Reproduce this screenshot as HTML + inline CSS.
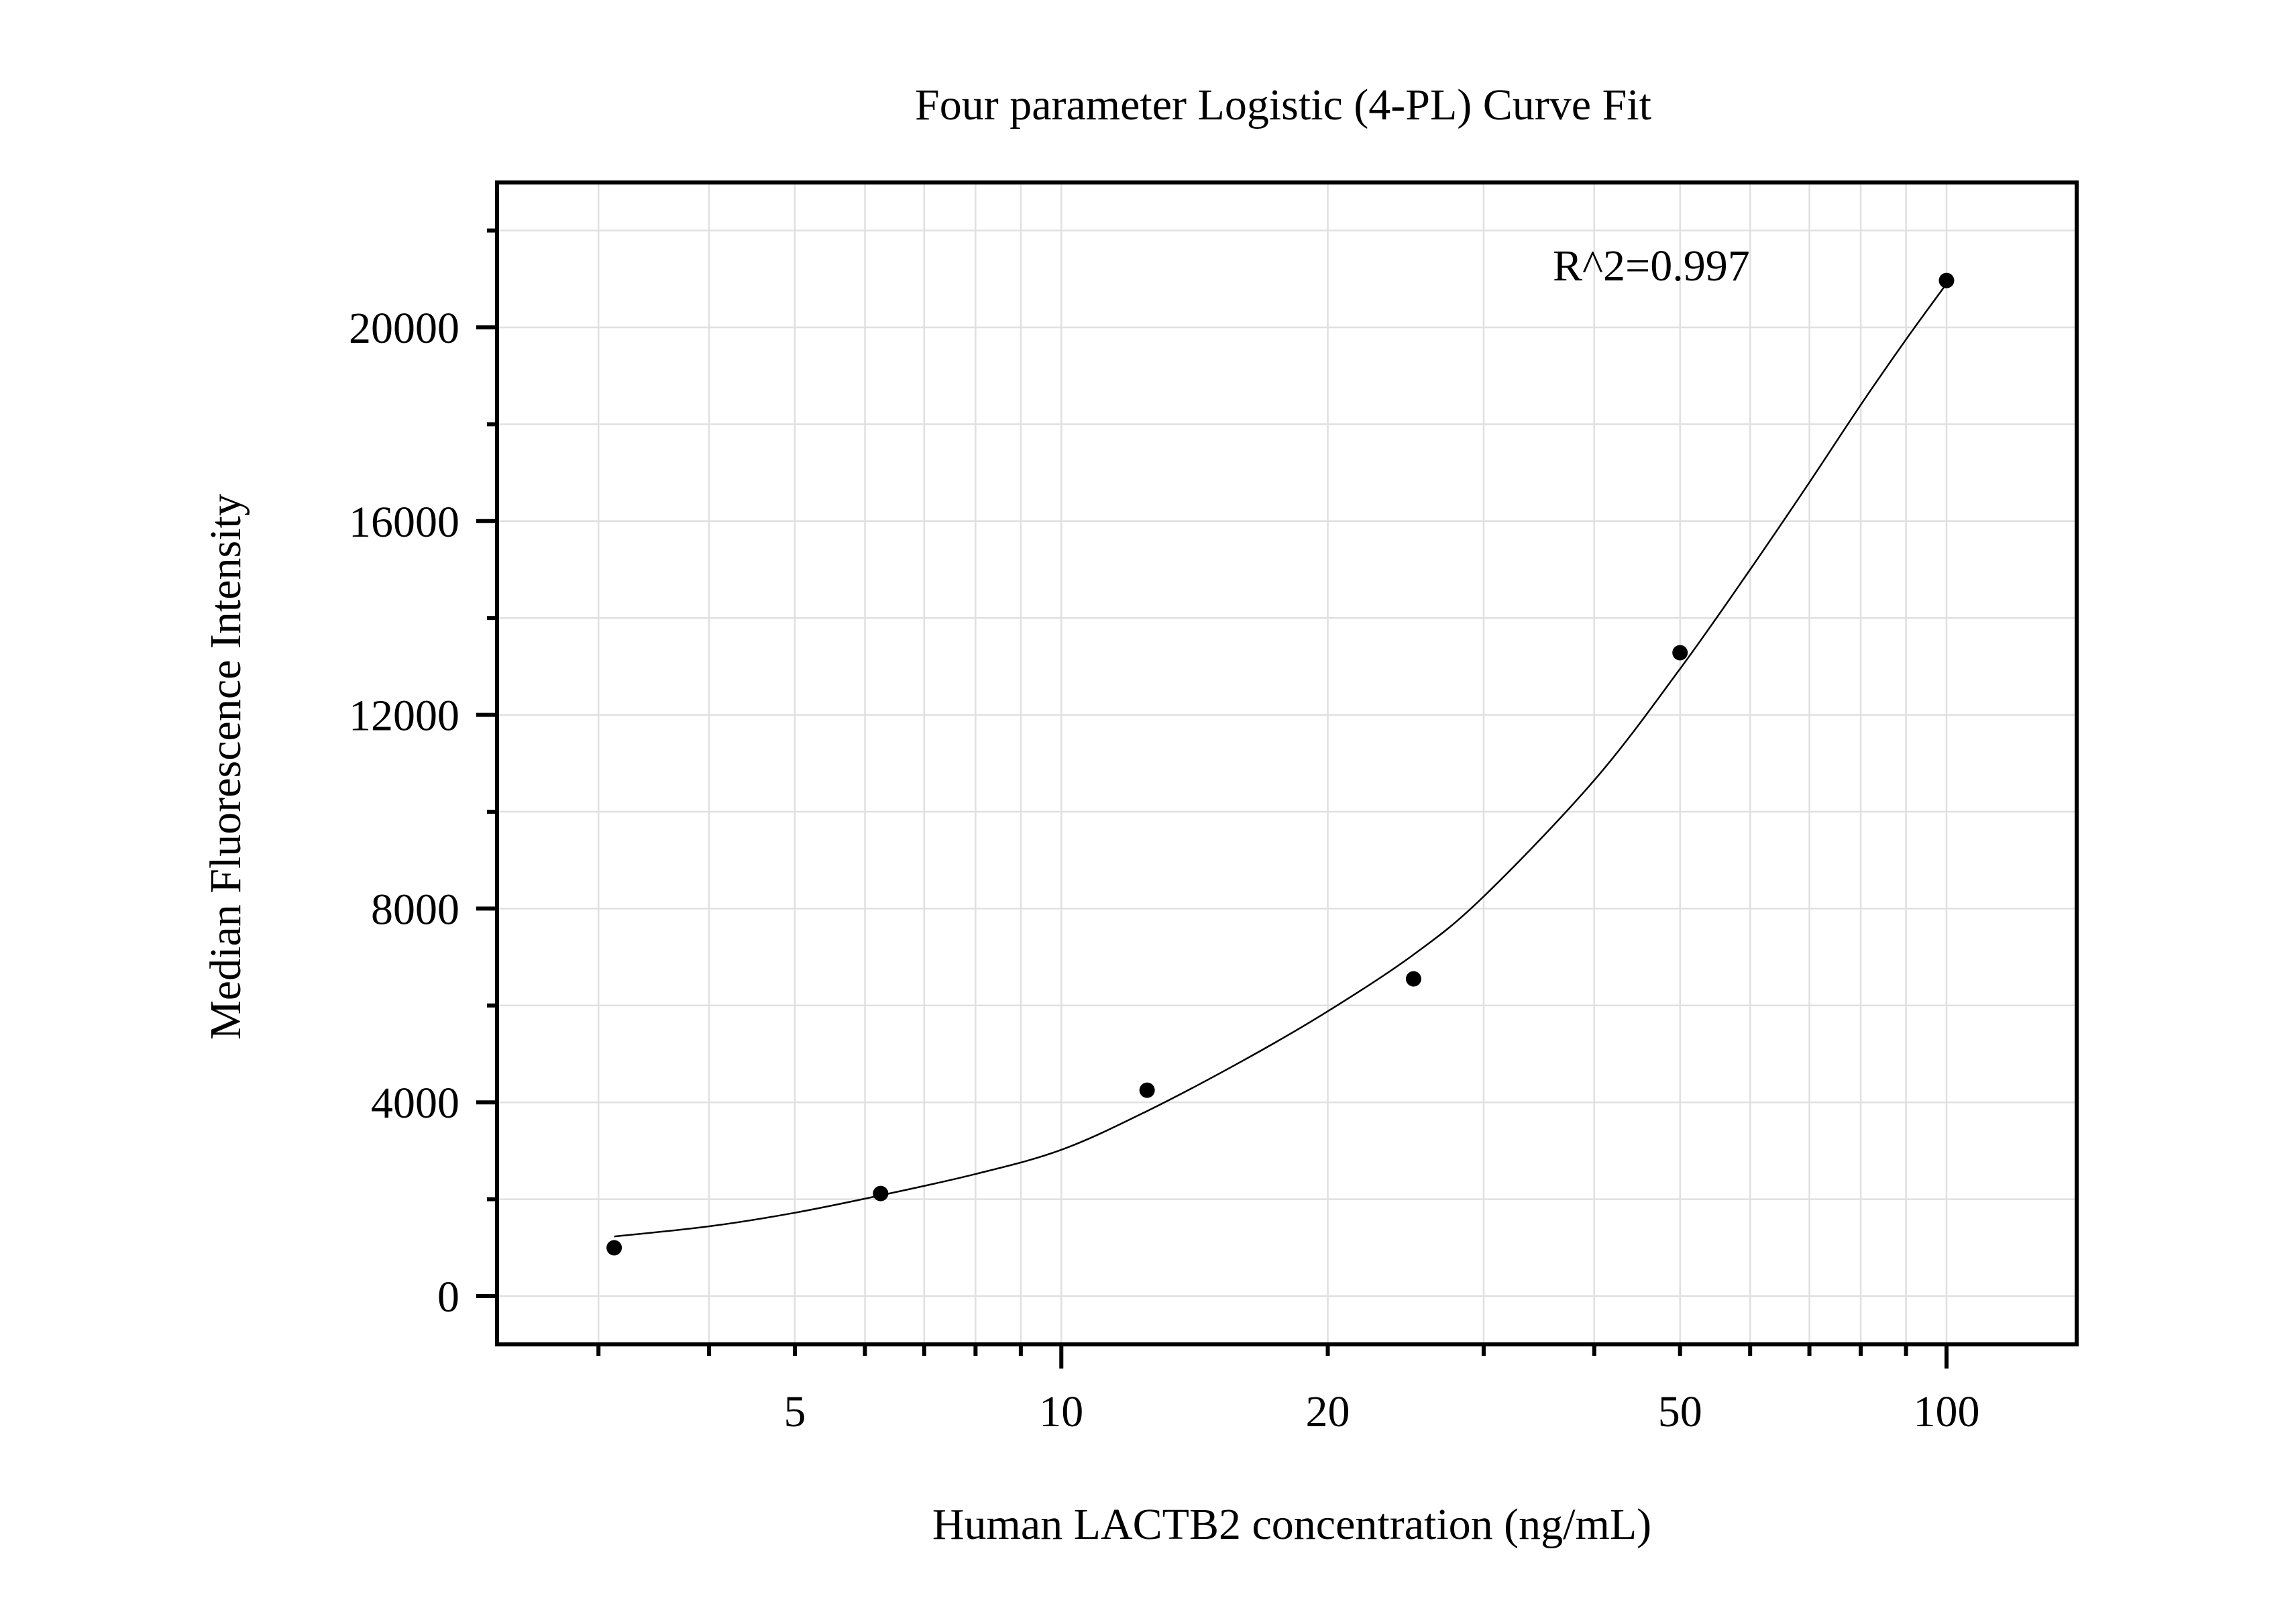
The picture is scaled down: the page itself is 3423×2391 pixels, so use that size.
<!DOCTYPE html>
<html><head><meta charset="utf-8"><style>
html,body{margin:0;padding:0;background:#fff}
svg{display:block}
text{font-family:"Liberation Serif",serif;fill:#000}
</style></head><body>
<svg id="chart" width="3423" height="2391" viewBox="0 0 3423 2391">
<text x="1913" y="178" font-size="66" text-anchor="middle">Four parameter Logistic (4-PL) Curve Fit</text>
<g id="grid"></g>
<g id="axes"></g>
<path id="fit" fill="none" stroke="#000" stroke-width="2.5"/>
<g id="pts"></g>
<text x="2315" y="418" font-size="66">R^2=0.997</text>
<text x="1926" y="2294" font-size="66" text-anchor="middle">Human LACTB2 concentration (ng/mL)</text>
<text x="0" y="0" font-size="66" text-anchor="middle" transform="translate(358,1143) rotate(-90)">Median Fluorescence Intensity</text>
</svg>
<script>
const concX = [3.125, 6.25, 12.5, 25, 50, 100];
const mfiY = [998, 2118, 4250, 6550, 13283, 20968];
const curveX = [3.125, 4, 5, 6.25, 8, 10, 12.5, 16, 20, 25, 30, 40, 50, 60, 70, 80, 90, 100];
const curveY = [1230, 1440, 1720, 2080, 2520, 3020, 3820, 4850, 5880, 7050, 8250, 10650, 12950, 15000, 16800, 18400, 19750, 20900];
const yTicks = [0, 4000, 8000, 12000, 16000, 20000];
const xTickLabels = [5, 10, 20, 50, 100];

const L=741, R=3096, T=272, B=2004;
const xs = v => 1185 + 1319.7*Math.log10(v/5);
const ys = v => 1932 - v*0.0722;
const NS="http://www.w3.org/2000/svg";
const grid=document.getElementById('grid'), axes=document.getElementById('axes');
function mk(tag,attrs,parent){const e=document.createElementNS(NS,tag);for(const k in attrs)e.setAttribute(k,attrs[k]);parent.appendChild(e);return e;}
for(let d=1;d<=100;d*=10){for(let m=1;m<10;m++){const v=d*m; if(v<2.3||v>140)continue;
 const x=xs(v);
 const g=mk('line',{x1:x,x2:x,y1:T,y2:B,stroke:'#e0e0e0','stroke-width':2.5},grid);
 
 
 const major=(v===10||v===100);
 const t=mk('line',{x1:x,x2:x,y1:B,y2:B+(major?36:17),stroke:'#000','stroke-width':6},axes);
 
 
}}
for(const v of xTickLabels){const t=mk('text',{x:xs(v),y:2126,'font-size':66,'text-anchor':'middle'},axes);t.textContent=v;
 
 }
for(let v=0;v<=22000;v+=2000){const y=ys(v);
 const g=mk('line',{x1:L,x2:R,y1:y,y2:y,stroke:'#e0e0e0','stroke-width':2.5},grid);
 
 
 const major=v%4000===0;
 const t=mk('line',{x1:L-(major?31:15),x2:L,y1:y,y2:y,stroke:'#000','stroke-width':6},axes);
 
 }
for(const v of yTicks){const t=mk('text',{x:685,y:ys(v)+23,'font-size':66,'text-anchor':'end'},axes);t.textContent=v;
 
 }
const fr=mk('rect',{x:L,y:T,width:R-L,height:B-T,fill:'none',stroke:'#000','stroke-width':6},axes);


const P=curveX.map((x,i)=>[xs(x),ys(curveY[i])]);
let d=`M${P[0][0]},${P[0][1]}`;
for(let i=0;i<P.length-1;i++){const p0=P[Math.max(i-1,0)],p1=P[i],p2=P[i+1],p3=P[Math.min(i+2,P.length-1)];
 d+=` C${p1[0]+(p2[0]-p0[0])/6},${p1[1]+(p2[1]-p0[1])/6} ${p2[0]-(p3[0]-p1[0])/6},${p2[1]-(p3[1]-p1[1])/6} ${p2[0]},${p2[1]}`;}
document.getElementById('fit').setAttribute('d',d);
const pts=document.getElementById('pts');
concX.forEach((x,i)=>{const c=mk('circle',{cx:xs(x),cy:ys(mfiY[i]),r:11.5,fill:'#000'},pts);
 
 });
</script>
</body></html>
